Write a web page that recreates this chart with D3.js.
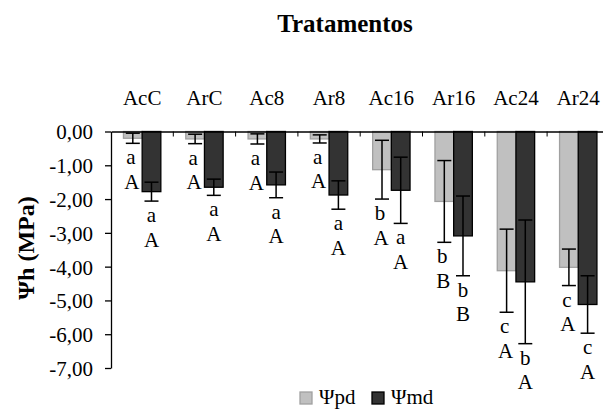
<!DOCTYPE html>
<html>
<head>
<meta charset="utf-8">
<script src="https://cdn.jsdelivr.net/npm/d3@7"></script>
<style>
  html, body { margin: 0; padding: 0; background: #fff; }
  svg { display: block; }
</style>
</head>
<body>
<svg id="chart" width="603" height="412"></svg>
<script>
// ---- data ----
const categories = ["AcC", "ArC", "Ac8", "Ar8", "Ac16", "Ar16", "Ac24", "Ar24"];
const psiPd    = [-0.20, -0.22, -0.22, -0.22, -1.13, -2.07, -4.12, -4.02];
const psiPdErr = [0.15, 0.14, 0.15, 0.12, 0.87, 1.21, 1.23, 0.54];
const psiMd    = [-1.78, -1.65, -1.58, -1.88, -1.74, -3.09, -4.45, -5.12];
const psiMdErr = [0.28, 0.24, 0.38, 0.42, 0.98, 1.18, 1.83, 0.85];
const pdLower = ["a", "a", "a", "a", "b", "b", "c", "c"];
const pdUpper = ["A", "A", "A", "A", "A", "B", "A", "A"];
const mdLower = ["a", "a", "a", "a", "a", "b", "b", "c"];
const mdUpper = ["A", "A", "A", "A", "A", "B", "A", "A"];
const yTicks = [0, -1, -2, -3, -4, -5, -6, -7];
const seriesKeys = ["pd", "md"];
const seriesNames = ["\u03A8pd", "\u03A8md"];
const title = "Tratamentos";
const yTitle = "\u03A8h (MPa)";

// ---- styles ----
const FONT = "'Liberation Serif', 'Times New Roman', serif";
const fills = { pd: "#c0c0c0", md: "#333333" };
const strokes = { pd: "#a0a0a0", md: "#000000" };

const svg = d3.select("#chart").attr("font-family", FONT);

const x = d3.scaleBand().domain(categories).range([111, 609.4]).paddingInner(0).paddingOuter(0);
const xSub = d3.scaleBand().domain(seriesKeys).range([0, x.bandwidth()]).paddingInner(0).paddingOuter(0.667);
const y = d3.scaleLinear().domain([0, -7]).range([131.5, 368]);

const locale = d3.formatLocale({ decimal: ",", thousands: ".", grouping: [3], currency: ["", ""], minus: "-" });
const fmt = locale.format(".2f");

function txt(sel) { return sel.attr("font-family", FONT).attr("fill", "#000"); }

// title
txt(svg.append("text")).attr("x", 345).attr("y", 32).attr("text-anchor", "middle")
  .attr("font-size", 25).attr("font-weight", "bold").text(title);

// y axis title
txt(svg.append("text")).attr("transform", "translate(34,248) rotate(-90)").attr("text-anchor", "middle")
  .attr("font-size", 24).attr("font-weight", "bold").text(yTitle);

// category labels
txt(svg.append("g").selectAll("text").data(categories).join("text"))
  .attr("x", d => x(d) + x.bandwidth() / 2).attr("y", 105)
  .attr("text-anchor", "middle").attr("font-size", 21).text(d => d);

// rows
const rows = categories.map((c, i) => ({
  cat: c,
  bars: [
    { key: "pd", v: psiPd[i], e: psiPdErr[i], lo: pdLower[i], up: pdUpper[i] },
    { key: "md", v: psiMd[i], e: psiMdErr[i], lo: mdLower[i], up: mdUpper[i] }
  ]
}));

const g = svg.append("g");
const grp = g.selectAll("g.cat").data(rows).join("g").attr("class", "cat")
  .attr("transform", d => `translate(${x(d.cat)},0)`);

grp.selectAll("rect").data(d => d.bars).join("rect")
  .attr("x", b => xSub(b.key))
  .attr("y", y(0))
  .attr("width", xSub.bandwidth())
  .attr("height", b => y(b.v) - y(0))
  .attr("fill", b => fills[b.key])
  .attr("stroke", b => strokes[b.key])
  .attr("stroke-width", 1.3);

// error bars
const capW = 14;
const eb = grp.selectAll("g.eb").data(d => d.bars).join("g").attr("class", "eb")
  .attr("stroke", "#000").attr("stroke-width", 1.5);
eb.append("line")
  .attr("x1", b => xSub(b.key) + xSub.bandwidth() / 2).attr("x2", b => xSub(b.key) + xSub.bandwidth() / 2)
  .attr("y1", b => y(b.v + b.e)).attr("y2", b => y(b.v - b.e));
eb.append("line")
  .attr("x1", b => xSub(b.key) + xSub.bandwidth() / 2 - capW / 2).attr("x2", b => xSub(b.key) + xSub.bandwidth() / 2 + capW / 2)
  .attr("y1", b => y(b.v + b.e)).attr("y2", b => y(b.v + b.e));
eb.append("line")
  .attr("x1", b => xSub(b.key) + xSub.bandwidth() / 2 - capW / 2).attr("x2", b => xSub(b.key) + xSub.bandwidth() / 2 + capW / 2)
  .attr("y1", b => y(b.v - b.e)).attr("y2", b => y(b.v - b.e));

// letters
const lab = grp.selectAll("g.lab").data(d => d.bars).join("g").attr("class", "lab");
txt(lab.append("text"))
  .attr("x", b => xSub(b.key) + xSub.bandwidth() / 2 - (b.key === "pd" ? 2 : 0))
  .attr("y", b => y(b.v - b.e) + 21)
  .attr("text-anchor", "middle").attr("font-size", 21).text(b => b.lo);
txt(lab.append("text"))
  .attr("x", b => xSub(b.key) + xSub.bandwidth() / 2 - (b.key === "pd" ? 1 : 0))
  .attr("y", b => y(b.v - b.e) + 45.5)
  .attr("text-anchor", "middle").attr("font-size", 21).text(b => b.up);

// top category axis
const xAxis = d3.axisBottom(x).tickSize(0).tickFormat("");
const xa = svg.append("g").attr("transform", `translate(0,${y(0)})`).call(xAxis);
xa.select(".domain").attr("stroke", "#000").attr("stroke-width", 1.3);
svg.append("g").selectAll("line").data(categories.slice(1)).join("line")
  .attr("x1", d => x(d)).attr("x2", d => x(d))
  .attr("y1", y(0)).attr("y2", y(0) + 5)
  .attr("stroke", "#000").attr("stroke-width", 1);

// y axis
const yAxis = d3.axisLeft(y).tickValues(yTicks).tickFormat(d => fmt(d)).tickSize(6).tickSizeOuter(0).tickPadding(12);
const ya = svg.append("g").attr("transform", "translate(111,0)").call(yAxis);
ya.attr("font-family", FONT).attr("font-size", 21);
ya.select(".domain").attr("stroke", "#000").attr("stroke-width", 1.3);
ya.selectAll(".tick line").attr("stroke", "#000").attr("stroke-width", 1.3);
ya.selectAll(".tick text").attr("fill", "#000").attr("dy", "0.35em");

// legend
const leg = svg.append("g");
const legX = [300, 372];
seriesKeys.forEach((k, i) => {
  leg.append("rect").attr("x", legX[i]).attr("y", 392).attr("width", 12).attr("height", 12)
    .attr("fill", fills[k]).attr("stroke", strokes[k]).attr("stroke-width", 1.3);
  txt(leg.append("text")).attr("x", legX[i] + 19).attr("y", 404).attr("font-size", 21).text(seriesNames[i]);
});
</script>
</body>
</html>
